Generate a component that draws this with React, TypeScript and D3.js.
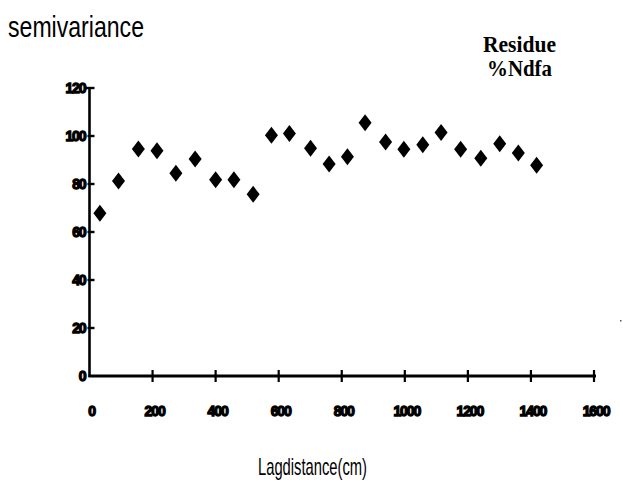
import { useEffect, useRef } from 'react';
import * as d3 from 'd3';

// lag distance (cm) and semivariance
const lags = [33, 92, 155, 214, 274, 335, 400, 458, 519, 577, 634, 701, 760, 818, 874, 939, 997, 1057, 1115, 1177, 1241, 1301, 1360, 1418];
const semivar = [67.8, 81.3, 94.6, 93.9, 84.5, 90.4, 81.8, 81.8, 75.7, 100.3, 101, 94.9, 88.3, 91.4, 105.5, 97.5, 94.5, 96.4, 101.5, 94.5, 90.7, 96.8, 92.9, 87.8];
const xTicks = [0, 200, 400, 600, 800, 1000, 1200, 1400, 1600];
const yTicks = [0, 20, 40, 60, 80, 100, 120];

const tickFont = '"Liberation Sans", Arial, sans-serif';

function App() {
  const ref = useRef<SVGSVGElement>(null);

  useEffect(() => {
    const w = 623;
    const h = 483;
    const svg = d3.select(ref.current).attr('width', w).attr('height', h);
    svg.selectAll('*').remove();

    const x = d3.scaleLinear().domain([0, 1600]).range([89.5, 594]);
    const y = d3.scaleLinear().domain([0, 120]).range([376, 88]);

    // y axis
    const gy = svg.append('g').attr('transform', `translate(${x(0)},0)`);
    gy.append('line')
      .attr('y1', y(120))
      .attr('y2', y(0) + 1)
      .attr('stroke', '#000')
      .attr('stroke-width', 2.6);
    gy.selectAll('line.tick')
      .data(yTicks.filter(d => d > 0))
      .join('line')
      .attr('class', 'tick')
      .attr('x1', d => (d === 120 ? -5 : -2))
      .attr('x2', 5)
      .attr('y1', d => y(d))
      .attr('y2', d => y(d))
      .attr('stroke', '#000')
      .attr('stroke-width', 2.4);
    gy.selectAll('text')
      .data(yTicks)
      .join('text')
      .attr('x', -4)
      .attr('y', d => y(d) + 5)
      .attr('text-anchor', 'end')
      .attr('font-family', tickFont)
      .attr('font-weight', 900)
      .attr('font-size', 14)
      .attr('letter-spacing', -1.1)
      .attr('stroke', '#000')
      .attr('stroke-width', 1.3)
      .text(d => d);

    // x axis
    const gx = svg.append('g').attr('transform', `translate(0,${y(0)})`);
    gx.append('line')
      .attr('x1', x(0) - 1)
      .attr('x2', x(1600) + 2)
      .attr('stroke', '#000')
      .attr('stroke-width', 3);
    gx.selectAll('line.tick')
      .data(xTicks.filter(d => d > 0))
      .join('line')
      .attr('class', 'tick')
      .attr('x1', d => x(d))
      .attr('x2', d => x(d))
      .attr('y1', -6)
      .attr('y2', 6)
      .attr('stroke', '#000')
      .attr('stroke-width', 2.2);
    gx.selectAll('text')
      .data(xTicks)
      .join('text')
      .attr('x', d => x(d) + 2)
      .attr('y', 40)
      .attr('text-anchor', 'middle')
      .attr('font-family', tickFont)
      .attr('font-weight', 900)
      .attr('font-size', 14)
      .attr('letter-spacing', -1.1)
      .attr('stroke', '#000')
      .attr('stroke-width', 1.3)
      .text(d => d);

    // diamonds
    const diamond = (cx: number, cy: number) => {
      const p = d3.path();
      p.moveTo(cx, cy - 8.5);
      p.lineTo(cx + 6.5, cy);
      p.lineTo(cx, cy + 8.5);
      p.lineTo(cx - 6.5, cy);
      p.closePath();
      return p.toString();
    };
    svg
      .append('g')
      .selectAll('path')
      .data(lags.map((l, i) => [l, semivar[i]]))
      .join('path')
      .attr('d', d => diamond(x(d[0]), y(d[1])))
      .attr('fill', '#000');

    // titles
    svg
      .append('text')
      .attr('x', 8)
      .attr('y', 37)
      .attr('font-family', '"Liberation Sans", Arial, sans-serif')
      .attr('font-size', 29)
      .attr('textLength', 136)
      .attr('lengthAdjust', 'spacingAndGlyphs')
      .text('semivariance');

    svg
      .append('text')
      .attr('x', 258)
      .attr('y', 475)
      .attr('font-family', '"Liberation Sans", Arial, sans-serif')
      .attr('font-size', 24)
      .attr('textLength', 109)
      .attr('lengthAdjust', 'spacingAndGlyphs')
      .text('Lagdistance(cm)');

    const serif = '"Liberation Serif", "Times New Roman", serif';
    svg
      .append('text')
      .attr('x', 483)
      .attr('y', 52)
      .attr('font-family', serif)
      .attr('font-weight', 'bold')
      .attr('font-size', 23)
      .attr('textLength', 73)
      .attr('lengthAdjust', 'spacingAndGlyphs')
      .text('Residue');
    svg
      .append('text')
      .attr('x', 487)
      .attr('y', 76)
      .attr('font-family', serif)
      .attr('font-weight', 'bold')
      .attr('font-size', 23)
      .attr('textLength', 65)
      .attr('lengthAdjust', 'spacingAndGlyphs')
      .text('%Ndfa');

    // speck on the scan
    svg.append('rect').attr('x', 620).attr('y', 320).attr('width', 1.5).attr('height', 1.5).attr('fill', '#555');

    return () => {
      svg.selectAll('*').remove();
    };
  }, []);

  return (
    <svg
      ref={ref}
      style={{ position: 'absolute', left: 0, top: 0, background: '#fff' }}
      role="img"
      aria-label="Semivariance vs lag distance"
    />
  );
}

export default App;
